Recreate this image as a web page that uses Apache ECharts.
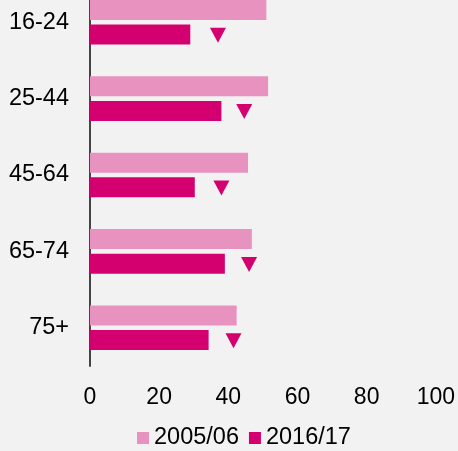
<!DOCTYPE html>
<html>
<head>
<meta charset="utf-8">
<script src="https://cdn.jsdelivr.net/npm/echarts@6/dist/echarts.min.js"></script>
<style>
html,body{margin:0;padding:0;background:#f2f2f2;overflow:hidden;}
#chart{width:458px;height:467px;margin-top:-16px;}
</style>
</head>
<body>
<div id="chart"></div>
<script>
var categories = ['16-24', '25-44', '45-64', '65-74', '75+'];
var values2005 = [51, 51.5, 45.7, 46.8, 42.4];
var values2016 = [29, 38, 30.3, 39, 34.3];
var significanceMarkers = [37, 44.6, 38, 46, 41.5];
var xTicks = [0, 20, 40, 60, 80, 100];

var chart = echarts.init(document.getElementById('chart'));
var font = 'Liberation Sans, Arial, sans-serif';
chart.setOption({
  backgroundColor: '#f2f2f2',
  animation: false,
  grid: { left: 90, right: 18, top: 0, height: 382, containLabel: false },
  legend: {
    top: 437,
    left: 132,
    itemWidth: 12,
    itemHeight: 12,
    itemGap: 10,
    icon: 'rect',
    textStyle: { fontFamily: font, fontSize: 23.5, color: '#000' },
    data: ['2005/06', '2016/17']
  },
  xAxis: {
    type: 'value',
    min: xTicks[0],
    max: xTicks[xTicks.length - 1],
    interval: 20,
    axisLine: { show: false },
    axisTick: { show: false },
    splitLine: { show: false },
    axisLabel: { fontFamily: font, fontSize: 23, color: '#000', margin: 20 }
  },
  yAxis: {
    type: 'category',
    inverse: true,
    data: categories,
    axisLine: { show: true, lineStyle: { color: '#444', width: 2 } },
    axisTick: { show: false },
    axisLabel: { fontFamily: font, fontSize: 23.5, color: '#000', margin: 21 }
  },
  series: [
    {
      name: '2005/06',
      type: 'bar',
      data: values2005,
      barWidth: 20,
      barGap: '23%',
      itemStyle: { color: '#e893bf' }
    },
    {
      name: '2016/17',
      type: 'bar',
      data: values2016,
      barWidth: 20,
      itemStyle: { color: '#d4006f' }
    },
    {
      name: 'change',
      type: 'scatter',
      data: significanceMarkers,
      symbol: 'triangle',
      symbolRotate: 180,
      symbolSize: [16, 15],
      symbolOffset: [0, 13],
      itemStyle: { color: '#d4006f', opacity: 1 },
      z: 5
    }
  ]
});
</script>
</body>
</html>
